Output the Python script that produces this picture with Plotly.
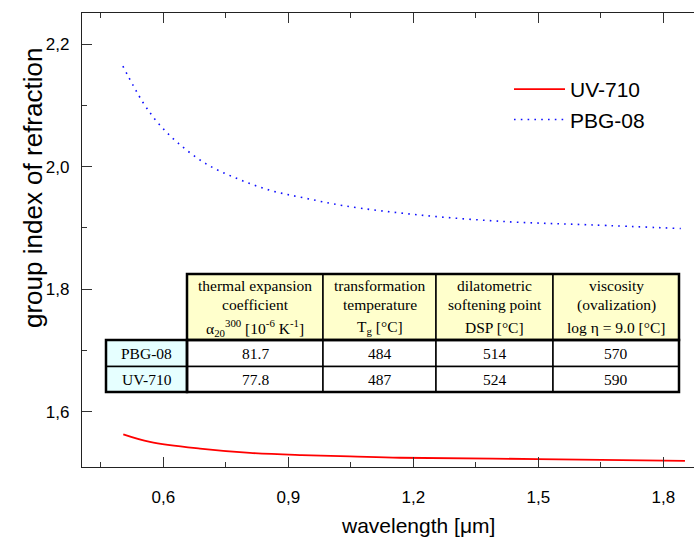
import plotly.graph_objects as go

# ---------------- data ----------------
series_names = ["UV-710", "PBG-08"]

red_x = [0.504, 0.568, 0.688, 0.808, 0.928, 1.048, 1.168, 1.499, 1.852]
red_y = [1.5633, 1.551, 1.540, 1.533, 1.5295, 1.5274, 1.5251, 1.523, 1.520]

blue_x = [0.503, 0.551, 0.589, 0.637, 0.704, 0.779, 0.858, 0.938, 1.035,
          1.216, 1.430, 1.626, 1.842]
blue_y = [2.164, 2.105, 2.070, 2.0375, 2.004, 1.980, 1.961, 1.949, 1.936,
          1.921, 1.910, 1.905, 1.899]

x_tickvals = [0.6, 0.9, 1.2, 1.5, 1.8]
y_tickvals = [1.6, 1.8, 2.0, 2.2]

table_header = [
    ["thermal expansion", "coefficient",
     "α<sub>20</sub><sup>300</sup> [10<sup>-6</sup> K<sup>-1</sup>]"],
    ["transformation", "temperature", "T<sub>g</sub> [°C]"],
    ["dilatometric", "softening point", "DSP [°C]"],
    ["viscosity", "(ovalization)", "log η = 9.0 [°C]"],
]
table_rows = ["PBG-08", "UV-710"]
table_values = [["81.7", "484", "514", "570"],
                ["77.8", "487", "524", "590"]]

x_title = "wavelength [μm]"
y_title = "group index of refraction"

# ---------------- layout geometry ----------------
W, H = 694, 539
ML, MT, MB, MR = 82, 13, 72, 0
PW = W - ML - MR
PH = H - MT - MB


def px(x):
    return (x - ML) / PW


def py(y):
    return (MT + PH - y) / PH


col_edges = [106, 187, 323, 436, 553, 679]
row_edges = [274, 340, 366.5, 392]
header_line_y = [285, 304.5, 327.5]

SANS = "Arial, Liberation Sans, sans-serif"
SERIF = "Times New Roman, Liberation Serif, serif"
TFONT = dict(family=SERIF, size=15.5, color="black")

fig = go.Figure()
fig.add_trace(go.Scatter(x=red_x, y=red_y, mode="lines", name=series_names[0],
                         line=dict(color="#FF0000", width=1.8, shape="spline")))
fig.add_trace(go.Scatter(x=blue_x, y=blue_y, mode="lines", name=series_names[1],
                         line=dict(color="#1010FF", width=1.6, shape="spline",
                                   dash="1.6px,5.2px")))

shapes = []
annotations = []


def cell_text(xc, yc, txt):
    annotations.append(dict(xref="paper", yref="paper", x=px(xc), y=py(yc),
                            text=txt, showarrow=False, xanchor="center",
                            yanchor="middle", font=TFONT))


# header cells
for j in range(4):
    shapes.append(dict(type="rect", xref="paper", yref="paper", layer="above",
                       x0=px(col_edges[j + 1]), x1=px(col_edges[j + 2]),
                       y0=py(row_edges[1]), y1=py(row_edges[0]),
                       fillcolor="#FFFFCC", line=dict(color="black", width=1.5)))
    for k, txt in enumerate(table_header[j]):
        cell_text((col_edges[j + 1] + col_edges[j + 2]) / 2, header_line_y[k], txt)
# body cells
for i in range(2):
    ya, yb = row_edges[i + 1], row_edges[i + 2]
    ymid = (ya + yb) / 2
    shapes.append(dict(type="rect", xref="paper", yref="paper", layer="above",
                       x0=px(col_edges[0]), x1=px(col_edges[1]),
                       y0=py(yb), y1=py(ya),
                       fillcolor="#E6FFFF", line=dict(color="black", width=1.5)))
    cell_text((col_edges[0] + col_edges[1]) / 2, ymid, table_rows[i])
    for j in range(4):
        shapes.append(dict(type="rect", xref="paper", yref="paper", layer="above",
                           x0=px(col_edges[j + 1]), x1=px(col_edges[j + 2]),
                           y0=py(yb), y1=py(ya),
                           fillcolor="white", line=dict(color="black", width=1.5)))
        cell_text((col_edges[j + 1] + col_edges[j + 2]) / 2, ymid, table_values[i][j])
# thick outlines
for (xa, xb, ya, yb) in [(col_edges[1], col_edges[5], row_edges[0], row_edges[1]),
                         (col_edges[0], col_edges[1], row_edges[1], row_edges[3]),
                         (col_edges[1], col_edges[5], row_edges[1], row_edges[3])]:
    shapes.append(dict(type="rect", xref="paper", yref="paper", layer="above",
                       x0=px(xa), x1=px(xb), y0=py(yb), y1=py(ya),
                       line=dict(color="black", width=2.5)))

# axis titles
annotations.append(dict(xref="paper", yref="paper", x=px(418), y=py(525),
                        text=x_title, showarrow=False, xanchor="center",
                        yanchor="middle", font=dict(family=SANS, size=21, color="black")))
annotations.append(dict(xref="paper", yref="paper", x=px(33), y=py(188),
                        text=y_title, showarrow=False, textangle=-90,
                        xanchor="center", yanchor="middle",
                        font=dict(family=SANS, size=26, color="black")))

fig.update_layout(
    width=W, height=H,
    margin=dict(l=ML, r=MR, t=MT, b=MB, pad=0),
    paper_bgcolor="white", plot_bgcolor="white",
    separators=", ",
    showlegend=True,
    legend=dict(x=px(509), y=py(69), xanchor="left", yanchor="top",
                bgcolor="rgba(0,0,0,0)", font=dict(family=SANS, size=21, color="black"),
                itemwidth=51),
    shapes=shapes, annotations=annotations,
    font=dict(family=SANS, color="black"),
)
fig.update_xaxes(range=[0.4049, 1.8737], tickvals=x_tickvals, tickformat=".1f",
                 ticks="inside", ticklen=10, tickwidth=1.2, tickcolor="#333",
                 showline=True, linecolor="#222", linewidth=1.3, mirror="ticks",
                 showgrid=False, zeroline=False, ticklabelstandoff=14,
                 tickfont=dict(family=SANS, size=17, color="black"),
                 minor=dict(dtick=0.15, tick0=0.45, ticks="inside", ticklen=5,
                            tickwidth=1.2, tickcolor="#333", showgrid=False))
fig.update_yaxes(range=[1.5100, 2.2506], tickvals=y_tickvals, tickformat=".1f",
                 ticks="inside", ticklen=10, tickwidth=1.2, tickcolor="#333",
                 showline=True, linecolor="#222", linewidth=1.3, mirror=False,
                 showgrid=False, zeroline=False, ticklabelstandoff=8,
                 tickfont=dict(family=SANS, size=17, color="black"),
                 minor=dict(dtick=0.1, tick0=1.5, ticks="inside", ticklen=5,
                            tickwidth=1.2, tickcolor="#333", showgrid=False))

fig.write_html("out.html")
